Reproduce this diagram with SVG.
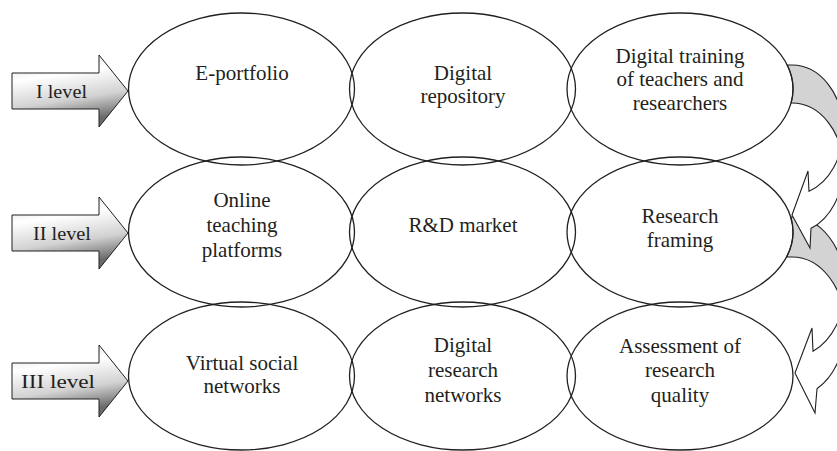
<svg xmlns="http://www.w3.org/2000/svg" width="837" height="451" viewBox="0 0 837 451">
<style>
.el{fill:none;stroke:#231f20;stroke-width:1.3}
.t{font-family:"Liberation Serif","Times New Roman",serif;font-size:21px;fill:#231f20;text-anchor:middle}
.lv{font-family:"Liberation Serif","Times New Roman",serif;font-size:19px;fill:#231f20;text-anchor:middle}
.la{fill:url(#g);stroke:#231f20;stroke-width:1}
.back{fill:#d3d3d3;stroke:#231f20;stroke-width:1.1}
.front{fill:#ffffff;stroke:#231f20;stroke-width:1.1}
</style>
<defs>
<linearGradient id="g" x1="0" y1="0" x2="0.25" y2="1">
<stop offset="0" stop-color="#d6d6d6"/>
<stop offset="0.35" stop-color="#ffffff"/>
<stop offset="0.7" stop-color="#d2d2d2"/>
<stop offset="1" stop-color="#6a6a6a"/>
</linearGradient>
<path id="lvarrow" d="M12,-18 L99,-18 L99,-36 L128,0 L99,36 L99,18 L12,18 Z"/>
</defs>

<g id="level1">
<use href="#lvarrow" class="la" transform="translate(0,91)"/>
<text class="lv" x="61.5" y="98" textLength="51" lengthAdjust="spacingAndGlyphs">I level</text>
</g>
<g id="level2">
<use href="#lvarrow" class="la" transform="translate(0,233)"/>
<text class="lv" x="62" y="240" textLength="58" lengthAdjust="spacingAndGlyphs">II level</text>
</g>
<g id="level3">
<use href="#lvarrow" class="la" transform="translate(0,381)"/>
<text class="lv" x="58" y="388" textLength="74" lengthAdjust="spacingAndGlyphs">III level</text>
</g>

<g id="connectors">
<g id="curved2">
<path class="back" d="M790.7,217 L792,217 A53,70 0 0 1 845,287 L845,327 A53,70 0 0 0 792,257 L786.5,257 A113,75 0 0 0 790.7,217 Z"/>
<path class="front" d="M845,287 A53,70 0 0 1 813,351.3 L812,328 L795,373 L815,413 L817,388.7 A53,70 0 0 0 845,327 Z"/>
</g>
<g id="curved1">
<path class="back" d="M787.2,65 L792,65 A51,65 0 0 1 843,130 L843,168 A51,65 0 0 0 792,103 L791.1,103 A113,76 0 0 0 787.2,65 Z"/>
<path class="front" d="M843,130 A51,65 0 0 1 809,191.3 L808,171 L792,215 L810,248 L811,228.3 A51,65 0 0 0 843,168 Z"/>
</g>
</g>

<g id="eportfolio">
<ellipse class="el" cx="241.5" cy="89" rx="113" ry="76"/>
<text class="t" x="242" y="80">E-portfolio</text>
</g>
<g id="digital-repository">
<ellipse class="el" cx="462.5" cy="89" rx="113" ry="76"/>
<text class="t" x="463" y="80">Digital</text>
<text class="t" x="463" y="103">repository</text>
</g>
<g id="digital-training">
<ellipse class="el" cx="680" cy="89" rx="113" ry="76"/>
<text class="t" x="680" y="63">Digital training</text>
<text class="t" x="680" y="86">of teachers and</text>
<text class="t" x="680" y="110">researchers</text>
</g>

<g id="online-teaching">
<ellipse class="el" cx="241.5" cy="232" rx="113" ry="75"/>
<text class="t" x="242" y="207">Online</text>
<text class="t" x="242" y="232">teaching</text>
<text class="t" x="242" y="257">platforms</text>
</g>
<g id="rd-market">
<ellipse class="el" cx="462.5" cy="232" rx="113" ry="75"/>
<text class="t" x="463" y="232">R&amp;D market</text>
</g>
<g id="research-framing">
<ellipse class="el" cx="680" cy="232" rx="113" ry="75"/>
<text class="t" x="680" y="223">Research</text>
<text class="t" x="680" y="247">framing</text>
</g>

<g id="virtual-social">
<ellipse class="el" cx="241.5" cy="376" rx="113" ry="74"/>
<text class="t" x="242" y="370">Virtual social</text>
<text class="t" x="242" y="393">networks</text>
</g>
<g id="digital-research">
<ellipse class="el" cx="462.5" cy="376" rx="113" ry="74"/>
<text class="t" x="463" y="352">Digital</text>
<text class="t" x="463" y="377">research</text>
<text class="t" x="463" y="402">networks</text>
</g>
<g id="assessment">
<ellipse class="el" cx="680" cy="376" rx="113" ry="74"/>
<text class="t" x="680" y="353">Assessment of</text>
<text class="t" x="680" y="377">research</text>
<text class="t" x="680" y="402">quality</text>
</g>
</svg>
